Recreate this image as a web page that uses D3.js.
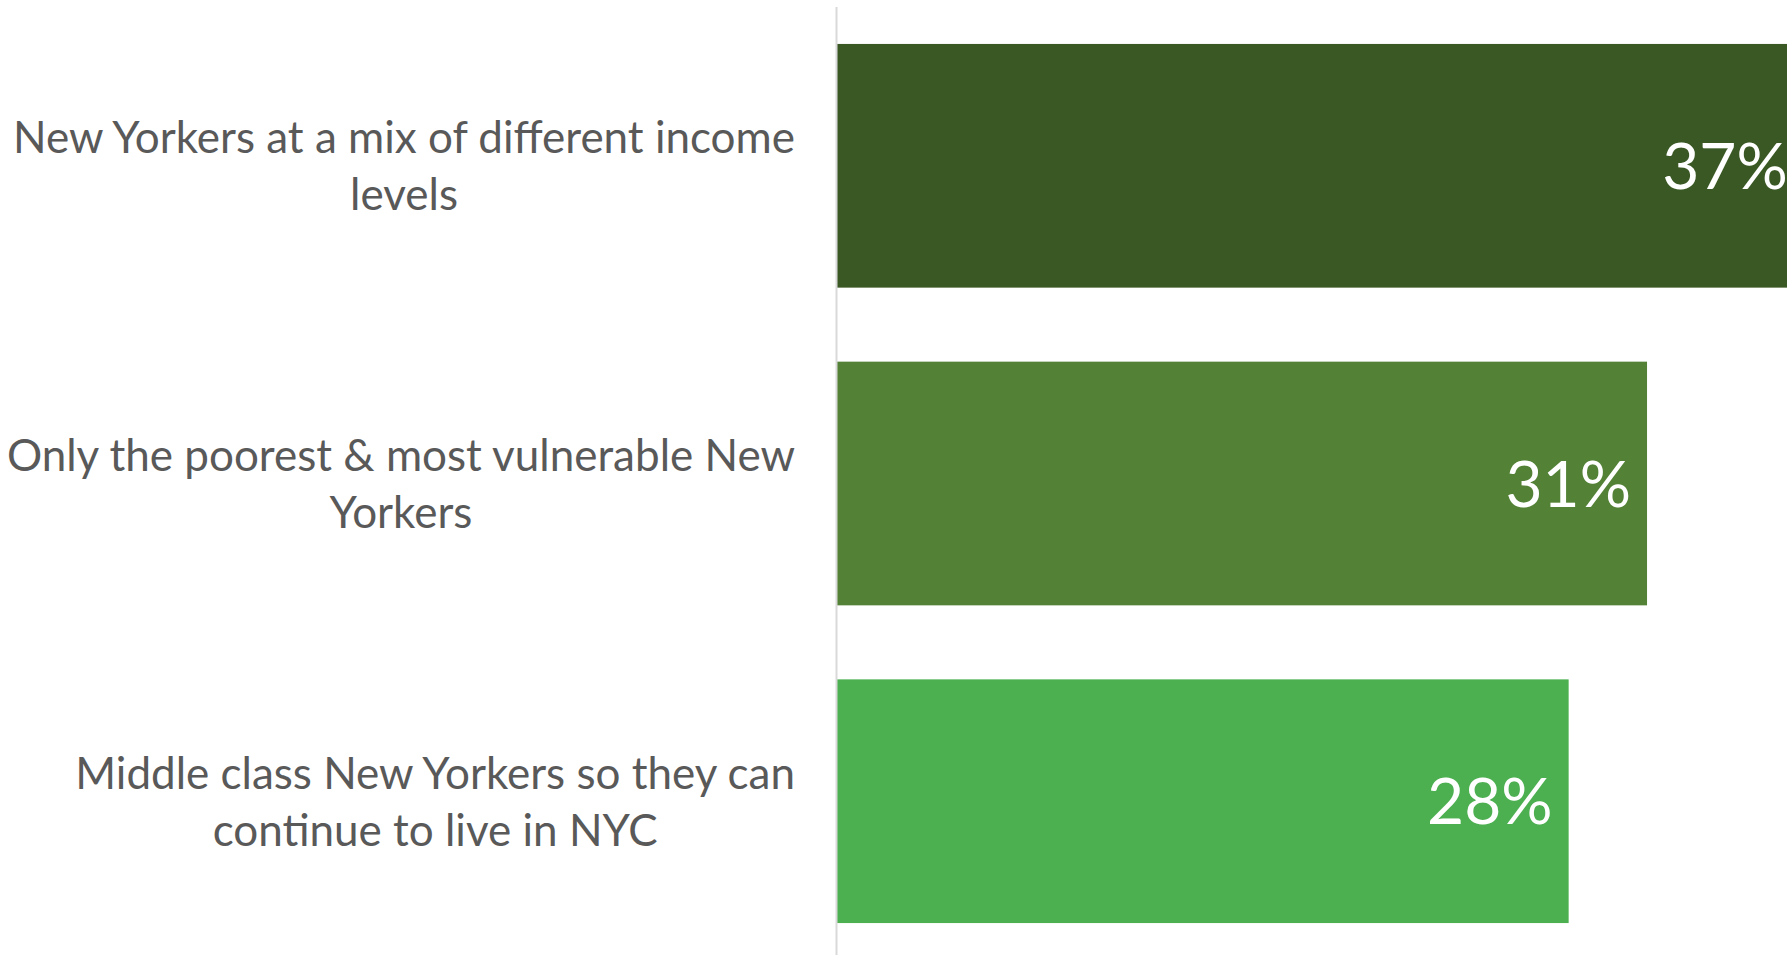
<!DOCTYPE html>
<html>
<head>
<meta charset="utf-8">
<script src="https://cdn.jsdelivr.net/npm/d3@7"></script>
<style>
  html, body { margin: 0; padding: 0; background: #fff; }
  svg { display: block; }
</style>
</head>
<body>
<svg id="chart"></svg>
<script>
var width = 1787;
var height = 955;

var categories = [
  "New Yorkers at a mix of different income levels",
  "Only the poorest & most vulnerable New Yorkers",
  "Middle class New Yorkers so they can continue to live in NYC"
];
var values = [37, 31, 28];
var barColors = ["#3a5824", "#538135", "#4caf50"];

var axisX = 837;
var labelRight = 795;
var wrapWidth = 810;
var labelFont = "Lato, 'Open Sans', sans-serif";

var svg = d3.select("#chart")
  .attr("width", width)
  .attr("height", height);

var yScale = d3.scaleBand()
  .domain(categories)
  .range([9, 958])
  .paddingInner(0.233)
  .paddingOuter(0.11);

var xScale = d3.scaleLinear()
  .domain([0, 40])
  .range([axisX, axisX + 40 * 26.13]);

// bars
svg.append("g").selectAll("rect")
  .data(categories).enter()
  .append("rect")
    .attr("x", xScale(0))
    .attr("y", (d) => yScale(d))
    .attr("width", (d, i) => xScale(values[i]) - xScale(0))
    .attr("height", yScale.bandwidth())
    .attr("fill", (d, i) => barColors[i]);

// value labels
svg.append("g").selectAll("text")
  .data(categories).enter()
  .append("text")
    .attr("x", (d, i) => xScale(values[i]) - 16)
    .attr("y", (d) => yScale(d) + yScale.bandwidth() / 2)
    .attr("dy", "0.36em")
    .attr("text-anchor", "end")
    .attr("fill", "#ffffff")
    .style("font-family", labelFont)
    .style("font-size", "64px")
    .text((d, i) => values[i] + "%");

// category axis line
svg.append("line")
  .attr("x1", axisX - 0.5).attr("x2", axisX - 0.5)
  .attr("y1", 7).attr("y2", height)
  .attr("stroke", "#d9d9d9")
  .attr("stroke-width", 2);

// category labels, wrapped and centred inside a right-aligned block
var measure = svg.append("text")
  .style("font-family", labelFont)
  .style("font-size", "44px");

function textWidth(s) {
  measure.text(s);
  return measure.node().getComputedTextLength();
}

function wrap(label) {
  var words = label.split(" ");
  var lines = [];
  var line = "";
  words.forEach((w) => {
    var test = line ? line + " " + w : w;
    if (line && textWidth(test) > wrapWidth) {
      lines.push(line);
      line = w;
    } else {
      line = test;
    }
  });
  if (line) lines.push(line);
  return lines;
}

var lineGap = 57;
var labels = svg.append("g");
categories.forEach((c) => {
  var lines = wrap(c);
  var blockW = d3.max(lines, textWidth);
  var cx = labelRight - blockW / 2;
  var mid = yScale(c) + yScale.bandwidth() / 2;
  var t = labels.append("text")
    .attr("text-anchor", "middle")
    .attr("fill", "#595959")
    .style("font-family", labelFont)
    .style("font-size", "44px");
  lines.forEach((l, i) => {
    t.append("tspan")
      .attr("x", cx)
      .attr("y", mid + (i - (lines.length - 1) / 2) * lineGap)
      .attr("dy", "0.36em")
      .text(l);
  });
});
measure.remove();
</script>
</body>
</html>
